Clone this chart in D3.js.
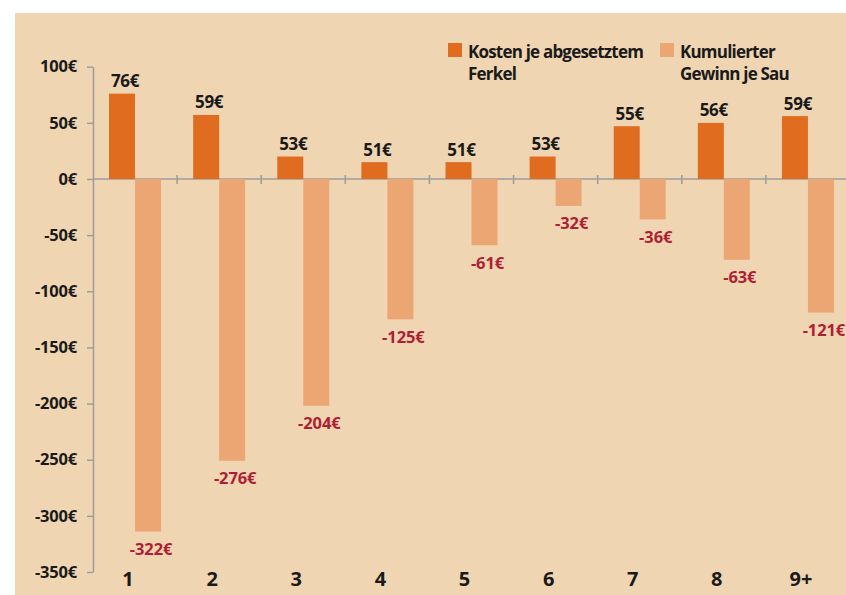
<!DOCTYPE html>
<html>
<head>
<meta charset="utf-8">
<script src="https://cdn.jsdelivr.net/npm/d3@7"></script>
<style>
body{margin:0;background:#fff;}
text{font-family:"Open Sans",sans-serif;font-weight:700;}
</style>
</head>
<body>
<script>
// chart data
var categories = ["1","2","3","4","5","6","7","8","9+"];
var kosten = [76, 57, 20, 15, 15, 20, 47, 50, 56];//bar heights as drawn
var kostenLabels = [76, 59, 53, 51, 51, 53, 55, 56, 59];//printed values
var gewinn = [-314, -251, -202, -125, -59, -24, -36, -72, -119];
var gewinnLabels = [-322, -276, -204, -125, -61, -32, -36, -63, -121];
var yTicks = [100, 50, 0, -50, -100, -150, -200, -250, -300, -350];
var legendNames = [["Kosten je abgesetztem","Ferkel"],["Kumulierter","Gewinn je Sau"]];

var width = 846, height = 595;
var colKosten = "#e06c1f", colGewinn = "#eca673", colNeg = "#ad1f35";

var svg = d3.select("body").append("svg")
    .attr("width", width)
    .attr("height", height);

svg.append("rect")//panel background
    .attr("x", 15).attr("y", 13)
    .attr("width", width - 15).attr("height", height - 13)
    .attr("fill", "#f0d5b2");

var y = d3.scaleLinear().domain([-350, 100]).range([572, 66.7]);
var x = d3.scaleBand().domain(categories).range([93, 850]);
var bw = 26;//single bar width

// y axis
var yAxis = d3.axisLeft(y).tickValues(yTicks).tickSize(6).tickSizeOuter(0)
    .tickFormat(function(d){ return d + "€"; });
var gy = svg.append("g").attr("transform", "translate(93,0)").call(yAxis);
gy.selectAll("path, line").attr("stroke", "#9c9c9c").attr("stroke-width", 1.5);
gy.selectAll("text")
    .attr("x", -16)
    .attr("fill", "#1a1a1a")
    .style("font-size", "16.5px")
    .style("font-family", "\"Open Sans\",sans-serif")
    .style("font-weight", "700")
    .style("letter-spacing", "-0.2px");

// x axis line at zero
svg.append("line")
    .attr("x1", 93).attr("x2", width)
    .attr("y1", y(0)).attr("y2", y(0))
    .attr("stroke", "#9c9c9c").attr("stroke-width", 1.5);
svg.selectAll(".xtick").data(categories.slice(1)).enter().append("line")
    .attr("x1", function(d){ return x(d); })
    .attr("x2", function(d){ return x(d); })
    .attr("y1", y(0) - 4).attr("y2", y(0) + 5)
    .attr("stroke", "#9c9c9c").attr("stroke-width", 1.5);

// bars
svg.selectAll(".kosten").data(categories).enter().append("rect")
    .attr("x", function(d){ return x(d) + x.bandwidth()/2 - bw; })
    .attr("y", function(d, i){ return y(kosten[i]); })
    .attr("width", bw)
    .attr("height", function(d, i){ return y(0) - y(kosten[i]); })
    .attr("fill", colKosten);

svg.selectAll(".gewinn").data(categories).enter().append("rect")
    .attr("x", function(d){ return x(d) + x.bandwidth()/2; })
    .attr("y", y(0))
    .attr("width", bw)
    .attr("height", function(d, i){ return y(gewinn[i]) - y(0); })
    .attr("fill", colGewinn);

// value labels
svg.selectAll(".klab").data(categories).enter().append("text")
    .attr("x", function(d){ return x(d) + x.bandwidth()/2 - bw/2 + 3; })
    .attr("y", function(d, i){ return y(kosten[i]) - 13; })
    .attr("text-anchor", "middle")
    .attr("dominant-baseline", "central")
    .attr("fill", "#1a1a1a")
    .style("font-size", "17px")
    .style("letter-spacing", "-0.3px")
    .text(function(d, i){ return kostenLabels[i] + "€"; });

svg.selectAll(".glab").data(categories).enter().append("text")
    .attr("x", function(d){ return x(d) + x.bandwidth()/2 + bw/2 + 3; })
    .attr("y", function(d, i){ return y(gewinn[i]) + 17; })
    .attr("text-anchor", "middle")
    .attr("dominant-baseline", "central")
    .attr("fill", colNeg)
    .style("font-size", "16.5px")
    .style("letter-spacing", "-0.1px")
    .text(function(d, i){ return gewinnLabels[i] + "€"; });

// category labels
svg.selectAll(".xlab").data(categories).enter().append("text")
    .attr("x", function(d){ return x(d) + x.bandwidth()/2 - 7; })
    .attr("y", 578)
    .attr("text-anchor", "middle")
    .attr("dominant-baseline", "central")
    .attr("fill", "#1a1a1a")
    .style("font-size", "20px")
    .text(function(d){ return d; });

// legend
var legendX = [448, 660], legendColors = [colKosten, colGewinn];
legendNames.forEach(function(lines, k){
    svg.append("rect")
        .attr("x", legendX[k]).attr("y", 43)
        .attr("width", 14).attr("height", 14)
        .attr("fill", legendColors[k]);
    var t = svg.append("text")
        .attr("x", legendX[k] + 20).attr("y", 51)
        .attr("dominant-baseline", "central")
        .attr("fill", "#1a1a1a")
        .style("font-size", "17px")
        .style("letter-spacing", "-0.8px");
    lines.forEach(function(s, j){
        t.append("tspan").attr("x", legendX[k] + 20).attr("dy", j ? 21.5 : 0).text(s);
    });
});
</script>
</body>
</html>
